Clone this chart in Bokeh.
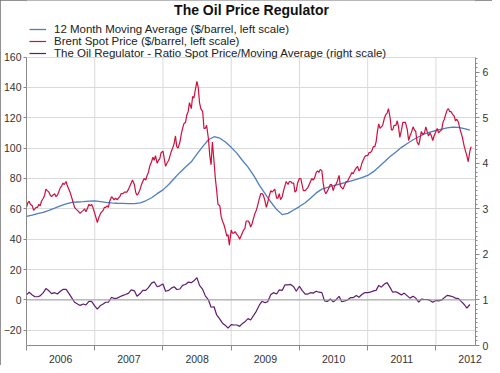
import datetime as dt
from bokeh.plotting import figure
from bokeh.models import Range1d, LinearAxis, FixedTicker, Legend, LegendItem, Span, Label
from bokeh.embed import file_html
from bokeh.resources import INLINE

# ---------------- data ----------------
years = [2006, 2007, 2008, 2009, 2010, 2011, 2012]
year_labels = ["2006", "2007", "2008", "2009", "2010", "2011", "2012"]

# Brent spot price, $/barrel, ~weekly (4 readings per month)
brent_2006 = [61, 64, 65, 63, 62, 59, 60, 61, 61, 63, 62, 65, 67, 69, 73, 72, 71, 69, 68, 69, 70, 68, 69, 71,
              74, 75, 77, 76, 78, 75, 73, 71, 67, 64, 61, 60, 59, 58, 57, 58, 59, 60, 58, 60, 63, 62, 63, 61]
brent_2007 = [57, 54, 51, 54, 57, 58, 59, 61, 61, 62, 61, 65, 68, 67, 66, 67, 66, 67, 68, 70, 70, 71, 71, 71,
              73, 75, 77, 79, 76, 71, 69, 70, 73, 76, 78, 80, 79, 82, 84, 88, 91, 94, 92, 95, 90, 92, 93, 97]
brent_2008 = [98, 93, 88, 90, 92, 95, 98, 100, 103, 108, 101, 100, 104, 109, 113, 116, 117, 122, 124, 130,
              126, 134, 133, 138, 144, 140, 130, 126, 124, 113, 113, 115, 106, 95, 89, 104, 91, 80, 72, 63,
              62, 55, 52, 50, 46, 42, 43, 36]
brent_2009 = [46, 44, 44, 45, 43, 42, 40, 42, 44, 46, 47, 52, 52, 51, 48, 50, 54, 57, 59, 62, 67, 70, 70, 69,
              65, 61, 64, 68, 72, 71, 72, 73, 67, 67, 70, 66, 68, 72, 75, 78, 76, 78, 78, 77, 77, 71, 72, 77]
brent_2010 = [80, 80, 76, 72, 72, 73, 74, 76, 78, 80, 79, 80, 84, 85, 84, 86, 85, 77, 72, 70, 72, 74, 76, 76,
              72, 75, 76, 78, 82, 75, 74, 73, 76, 78, 78, 80, 82, 84, 83, 85, 87, 88, 85, 86, 90, 92, 94, 95]
brent_2011 = [95, 97, 97, 98, 101, 101, 104, 111, 116, 113, 114, 115, 120, 122, 123, 126, 120, 112, 112, 115,
              115, 118, 114, 107, 112, 117, 117, 117, 112, 105, 108, 110, 114, 112, 111, 104, 102, 106, 111, 109,
              110, 114, 111, 108, 110, 108, 105, 108]
brent_2012 = [111, 113, 110, 111, 112, 117, 119, 122, 125, 126, 124, 124, 122, 121, 118, 119, 117, 113, 110, 107,
              101, 98, 95, 91, 98, 101]

# 12 month moving average, $/barrel, monthly
ma_2006 = [55.0, 55.8, 56.8, 57.7, 59.0, 60.5, 62.0, 63.3, 64.2, 64.5, 64.8, 65.1]
ma_2007 = [65.2, 64.8, 64.3, 63.9, 63.7, 63.6, 63.5, 63.5, 64.0, 65.3, 67.3, 70.0]
ma_2008 = [72.5, 76.0, 80.0, 84.0, 87.5, 91.0, 96.0, 101.0, 105.5, 107.5, 106.5, 104.0]
ma_2009 = [100.5, 96.5, 92.0, 87.5, 82.0, 75.5, 70.0, 64.5, 59.5, 56.2, 57.0, 59.2]
ma_2010 = [61.5, 64.0, 67.0, 70.5, 73.0, 74.2, 75.3, 76.2, 77.2, 78.3, 79.4, 80.5]
ma_2011 = [82.0, 84.5, 87.5, 91.0, 94.5, 97.5, 100.5, 103.0, 105.5, 107.5, 109.3, 110.6]
ma_2012 = [111.6, 112.5, 113.3, 113.8, 113.6, 112.8, 111.8]

# Oil regulator: ratio spot / moving average, twice a month (right scale)
ratio_2006 = [1.11, 1.17, 1.11, 1.07, 1.07, 1.09, 1.16, 1.25, 1.20, 1.14, 1.16, 1.13,
              1.19, 1.23, 1.23, 1.15, 1.04, 0.95, 0.91, 0.88, 0.91, 0.89, 0.97, 0.97]
ratio_2007 = [0.87, 0.80, 0.88, 0.91, 0.95, 0.95, 1.06, 1.03, 1.04, 1.07, 1.10, 1.12,
              1.15, 1.22, 1.20, 1.08, 1.14, 1.21, 1.21, 1.27, 1.37, 1.40, 1.29, 1.31]
ratio_2008 = [1.35, 1.19, 1.21, 1.26, 1.29, 1.23, 1.24, 1.32, 1.34, 1.39, 1.38, 1.42,
              1.49, 1.32, 1.23, 1.09, 1.00, 0.84, 0.85, 0.67, 0.58, 0.49, 0.44, 0.38]
ratio_2009 = [0.46, 0.45, 0.45, 0.42, 0.48, 0.52, 0.59, 0.56, 0.66, 0.75, 0.89, 0.97,
              0.94, 0.96, 1.12, 1.16, 1.13, 1.22, 1.21, 1.33, 1.33, 1.34, 1.29, 1.19]
ratio_2010 = [1.30, 1.21, 1.13, 1.13, 1.16, 1.15, 1.19, 1.17, 1.16, 0.98, 0.97, 1.02,
              0.96, 1.00, 1.08, 0.96, 0.98, 1.00, 1.05, 1.05, 1.10, 1.06, 1.12, 1.16]
ratio_2011 = [1.16, 1.17, 1.20, 1.21, 1.32, 1.28, 1.35, 1.38, 1.27, 1.17, 1.18, 1.15,
              1.11, 1.15, 1.09, 1.04, 1.08, 1.04, 0.95, 1.02, 1.01, 1.01, 0.99, 0.95]
ratio_2012 = [0.99, 0.98, 1.00, 1.05, 1.10, 1.09, 1.07, 1.04, 1.03, 0.97, 0.90, 0.82, 0.90]

left_ticks = [-20, 0, 20, 40, 60, 80, 100, 120, 140, 160]
right_ticks = [0, 1, 2, 3, 4, 5, 6]

brent_by_year = [brent_2006, brent_2007, brent_2008, brent_2009, brent_2010, brent_2011, brent_2012]
ma_by_year = [ma_2006, ma_2007, ma_2008, ma_2009, ma_2010, ma_2011, ma_2012]
ratio_by_year = [ratio_2006, ratio_2007, ratio_2008, ratio_2009, ratio_2010, ratio_2011, ratio_2012]


def dec_year(d):
    start = dt.date(d.year, 1, 1)
    end = dt.date(d.year + 1, 1, 1)
    return d.year + (d - start).days / (end - start).days


brent_x, brent_y, ma_x, ma_y, ratio_x, ratio_y = [], [], [], [], [], []
for yr, vals in zip(years, brent_by_year):
    for i, v in enumerate(vals):
        brent_x.append(dec_year(dt.date(yr, i // 4 + 1, 1 + 7 * (i % 4))))
        brent_y.append(v)
for yr, vals in zip(years, ma_by_year):
    for i, v in enumerate(vals):
        ma_x.append(dec_year(dt.date(yr, i + 1, 1)))
        ma_y.append(v)
for yr, vals in zip(years, ratio_by_year):
    for i, v in enumerate(vals):
        ratio_x.append(dec_year(dt.date(yr, i // 2 + 1, 1 + 14 * (i % 2))))
        ratio_y.append(v)

# ---------------- figure ----------------
FONT = "Liberation Sans"
RED = "#cf0f3e"
BLUE = "#4f7fc0"
PURPLE = "#5e1d6c"

W, H = 492, 365
BL, BR, BB = 25, 17, 17
FRAME_H = H - BB                  # frame spans from the top of the figure
Y_LO, Y_HI = -30, 160             # scale limits of the left axis
PX_PER_UNIT = (348 - 57) / (Y_HI - Y_LO)
Y_TOP = Y_HI + 57 / PX_PER_UNIT   # room above the plot for title and legend

p = figure(width=W, height=H, x_range=Range1d(2006.0, 2012.58), y_range=Range1d(Y_LO, Y_TOP),
           output_backend="svg", toolbar_location=None, title=None,
           min_border_left=BL, min_border_right=BR, min_border_top=0, min_border_bottom=BB)
p.outline_line_color = None
p.background_fill_color = "white"
p.border_fill_color = "white"
p.styles = {"outline": "2px solid #6e6e6e", "outline-offset": "-2px"}

p.extra_y_ranges = {"ratio": Range1d((Y_LO + 30) / 30, (Y_TOP + 30) / 30)}

# grids
p.ygrid.ticker = FixedTicker(ticks=left_ticks)
p.ygrid.grid_line_color = "#dadada"
p.xgrid.grid_line_color = None
vg = years[1:]
p.segment(x0=vg, y0=[Y_LO] * len(vg), x1=vg, y1=[Y_HI] * len(vg), line_color="#dadada", line_width=1)
p.add_layout(Span(location=0, dimension="width", line_color="#a3a3a3", line_width=1))

AX = "#8a8a8a"
# left axis
la = p.yaxis[0]
la.ticker = FixedTicker(ticks=left_ticks)
la.bounds = (Y_LO, Y_HI)
la.axis_line_color = AX
la.major_tick_line_color = AX
la.major_tick_out = 3
la.major_tick_in = 0
la.minor_tick_line_color = None
la.major_label_standoff = 2
la.major_label_text_font = FONT
la.major_label_text_font_size = "10.5px"
la.major_label_text_color = "#333333"

# bottom axis: labels centred in each year, ticks at year boundaries
xa = p.xaxis[0]
xa.ticker = FixedTicker(ticks=[y + 0.5 for y in years], minor_ticks=years + [2013])
xa.major_label_overrides = {y + 0.5: lab for y, lab in zip(years, year_labels)}
xa.axis_line_color = AX
xa.major_tick_line_color = None
xa.major_tick_out = 0
xa.major_tick_in = 0
xa.minor_tick_line_color = AX
xa.minor_tick_out = 5
xa.minor_tick_in = 0
xa.major_label_standoff = 4
xa.major_label_text_font = FONT
xa.major_label_text_font_size = "10.5px"
xa.major_label_text_color = "#333333"

# right axis
minor_r = [round(i * 0.1, 1) for i in range(0, 64)]
ra = LinearAxis(y_range_name="ratio", ticker=FixedTicker(ticks=right_ticks, minor_ticks=minor_r))
ra.bounds = ((Y_LO + 30) / 30, (Y_HI + 30) / 30)
ra.axis_line_color = AX
ra.major_tick_line_color = AX
ra.major_tick_out = 4
ra.major_tick_in = 0
ra.minor_tick_line_color = AX
ra.minor_tick_out = 2
ra.minor_tick_in = 0
ra.major_label_standoff = 3
ra.major_label_text_font = FONT
ra.major_label_text_font_size = "10.5px"
ra.major_label_text_color = "#333333"
p.add_layout(ra, "right")

# series
r_ma = p.line(ma_x, ma_y, line_color=BLUE, line_width=1.3)
r_br = p.line(brent_x, brent_y, line_color=RED, line_width=1.2)
r_ra = p.line(ratio_x, ratio_y, line_color=PURPLE, line_width=1.2, y_range_name="ratio")

legend = Legend(items=[
    LegendItem(label="12 Month Moving Average ($/barrel, left scale)", renderers=[r_ma]),
    LegendItem(label="Brent Spot Price ($/barrel, left scale)", renderers=[r_br]),
    LegendItem(label="The Oil Regulator - Ratio Spot Price/Moving Average (right scale)", renderers=[r_ra]),
], location=(3, FRAME_H - 62), orientation="vertical")
legend.background_fill_alpha = 0
legend.border_line_color = None
legend.padding = 0
legend.margin = 0
legend.spacing = -3
legend.glyph_width = 17
legend.glyph_height = 12
legend.label_height = 12
legend.label_standoff = 8
legend.label_text_font = FONT
legend.label_text_font_size = "11.5px"
legend.label_text_color = "#222222"
legend.label_text_baseline = "middle"
p.add_layout(legend)

title = Label(x=250 - BL, y=FRAME_H - 12, x_units="screen", y_units="screen",
              text="The Oil Price Regulator", text_align="center", text_baseline="middle",
              text_font=FONT, text_font_size="14px", text_font_style="bold", text_color="#111111")
p.add_layout(title)

open("out.html", "w").write(file_html(p, INLINE))
